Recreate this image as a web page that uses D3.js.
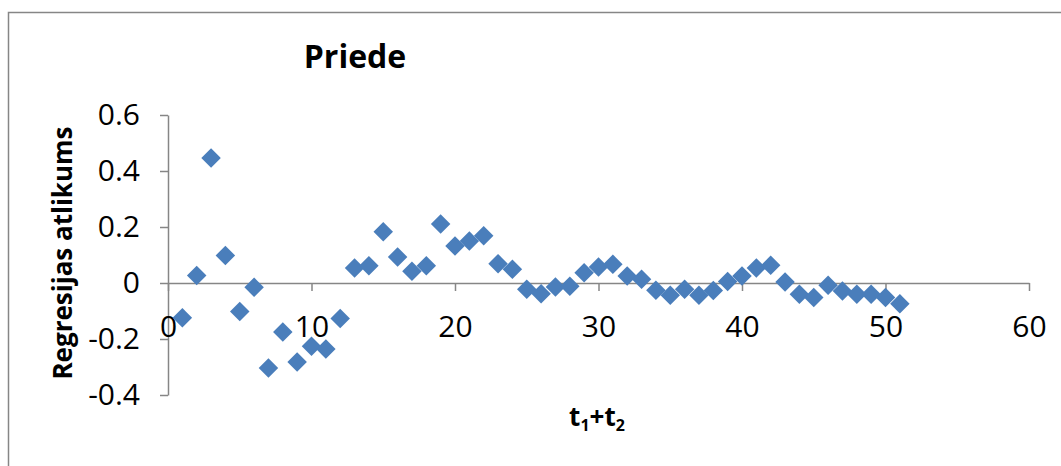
<!DOCTYPE html>
<html>
<head>
<meta charset="utf-8">
<script src="https://cdn.jsdelivr.net/npm/d3@7"></script>
<style>
  html, body { margin: 0; padding: 0; background: #fff; }
  svg { display: block; }
  text { font-family: "Open Sans", "DejaVu Sans", sans-serif; }
</style>
</head>
<body>
<svg id="chart" width="1061" height="466"></svg>
<script>
const chartTitle = "Priede";
const yAxisTitle = "Regresijas atlikums";
const xTicks = [0, 10, 20, 30, 40, 50, 60];
const yTicks = [-0.4, -0.2, 0, 0.2, 0.4, 0.6];
const xValues = [1, 2, 3, 4, 5, 6, 7, 8, 9, 10, 11, 12, 13, 14, 15, 16, 17, 18, 19, 20,
  21, 22, 23, 24, 25, 26, 27, 28, 29, 30, 31, 32, 33, 34, 35, 36, 37, 38, 39, 40,
  41, 42, 43, 44, 45, 46, 47, 48, 49, 50, 51];
const residuals = [-0.124, 0.027, 0.446, 0.098, -0.102, -0.015, -0.304, -0.175, -0.282, -0.226,
  -0.236, -0.127, 0.054, 0.062, 0.183, 0.093, 0.042, 0.062, 0.211, 0.132,
  0.150, 0.169, 0.069, 0.049, -0.022, -0.038, -0.014, -0.012, 0.037, 0.057,
  0.067, 0.025, 0.013, -0.026, -0.044, -0.022, -0.044, -0.027, 0.005, 0.025,
  0.054, 0.063, 0.004, -0.040, -0.052, -0.008, -0.029, -0.040, -0.040, -0.052,
  -0.074];

const svg = d3.select("#chart");
const axisColor = "#868686";
const markerColor = "#4a7ebb";

// chart area border (extends beyond the right and bottom edges)
svg.append("rect")
  .attr("x", 8.5).attr("y", 12.5)
  .attr("width", 1100).attr("height", 500)
  .attr("fill", "#fff").attr("stroke", axisColor).attr("stroke-width", 1.5);

const x = d3.scaleLinear().domain([0, 60]).range([168, 1029]);
const y = d3.scaleLinear().domain([-0.4, 0.6]).range([395, 115]);

// Y axis
const yAxis = d3.axisLeft(y)
  .tickValues(yTicks)
  .tickSize(8).tickSizeOuter(0).tickPadding(20)
  .tickFormat(d => Math.abs(d) < 1e-9 ? "0" : d.toFixed(1));
const gy = svg.append("g").attr("transform", `translate(${x(0)},0)`).call(yAxis);

// X axis crossing at y = 0
const xAxis = d3.axisBottom(x)
  .tickValues(xTicks)
  .tickSize(8).tickSizeOuter(0).tickPadding(25)
  .tickFormat(d3.format("d"));
const gx = svg.append("g").attr("transform", `translate(0,${y(0)})`).call(xAxis);

[gx, gy].forEach(g => {
  g.selectAll(".domain").attr("stroke", axisColor).attr("stroke-width", 1.5);
  g.selectAll(".tick line").attr("stroke", axisColor).attr("stroke-width", 1.5);
  g.selectAll(".tick text")
    .attr("fill", "#000")
    .style("font-family", '"Open Sans", sans-serif')
    .style("font-size", "30px");
});
gx.raise();

// markers (diamonds)
const pts = xValues.map((v, i) => ({ x: v, y: residuals[i] }));
const sq = d3.symbol().type(d3.symbolSquare).size(190);
svg.append("g").selectAll("path")
  .data(pts)
  .join("path")
  .attr("d", sq)
  .attr("transform", d => `translate(${x(d.x)},${y(d.y)}) rotate(45)`)
  .attr("fill", markerColor);

// title
svg.append("text")
  .attr("x", 355).attr("y", 68)
  .attr("text-anchor", "middle")
  .style("font-size", "32px").style("font-weight", "bold")
  .text(chartTitle);

// y axis title
svg.append("text")
  .attr("transform", `translate(72,253) rotate(-90)`)
  .attr("text-anchor", "middle")
  .style("font-size", "26px").style("font-weight", "bold")
  .text(yAxisTitle);

// x axis title t1+t2 with subscripts
const xt = svg.append("text")
  .attr("x", 597).attr("y", 426)
  .attr("text-anchor", "middle")
  .style("font-size", "26px").style("font-weight", "bold");
xt.append("tspan").text("t");
xt.append("tspan").attr("dy", 5).style("font-size", "16px").text("1");
xt.append("tspan").attr("dy", -5).text("+t");
xt.append("tspan").attr("dy", 5).style("font-size", "16px").text("2");
</script>
</body>
</html>
